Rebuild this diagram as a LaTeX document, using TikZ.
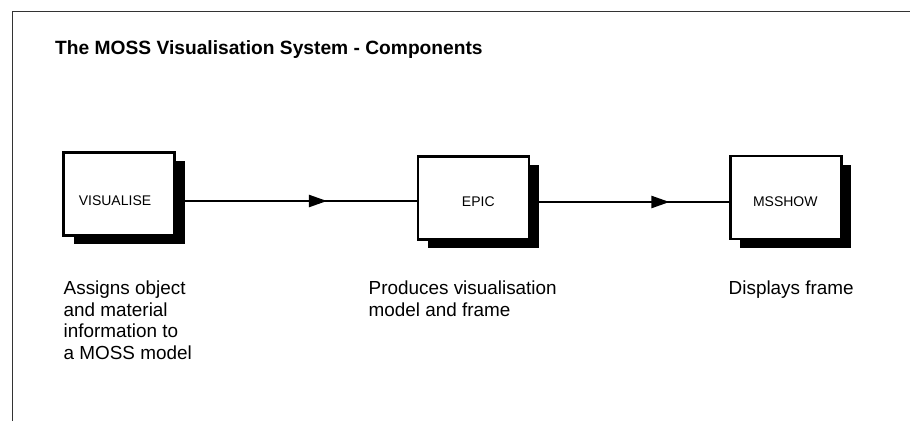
\documentclass[tikz,border=0pt]{standalone}
\usepackage{fontspec}
\setmainfont{Liberation Sans}
\usetikzlibrary{arrows.meta, shadows, decorations.markings}

\begin{document}
\begin{tikzpicture}[x=1pt, y=-1pt,
        comp/.style={rectangle, draw, line width=2.5pt, fill=white, minimum width=111pt, minimum height=83pt, inner sep=0pt,
            drop shadow={shadow xshift=10pt, shadow yshift=-8.5pt, opacity=1, fill=black}},
        comptext/.style={font=\fontsize{14}{16}\selectfont, inner sep=0pt},
        desc/.style={anchor=north west, align=left, inner sep=0pt, font=\fontsize{18.9}{21.7}\selectfont},
        flow/.style={line width=2.2pt},
        tipat/.style={postaction={decorate}, decoration={markings, mark=at position #1 with {\arrow{Triangle[length=18pt, width=12pt]}}}}]
        \useasboundingbox (0, 0) rectangle (910, 421);
        \draw[line width=1pt, black!80] (12, 421) -- (12, 11) -- (910, 11);
        \node[anchor=base west, inner sep=0pt, font=\bfseries\fontsize{19.2}{22}\selectfont] (title) at (55, 54) {The MOSS Visualisation System - Components};
        \node[comp] (vis) at (119, 194.2) {};
        \node[comp] (epic) at (473.7, 197.8) {};
        \node[comp] (msshow) at (785.8, 197.5) {};
        \node[comptext] (vistext) at (115, 201) {VISUALISE};
        \node[comptext] (epictext) at (478.3, 202) {EPIC};
        \node[comptext] (msshowtext) at (785.3, 202) {MSSHOW};
        \draw[flow, tipat=0.627] (vistext -| vis.east) -- (vistext -| epic.west);
        \draw[flow, tipat=0.70] (epictext -| epic.east) -- (epictext -| msshow.west);
        \node[desc] (visdesc) at (63.5, 280.5) {Assigns object\\and material\\information to\\a MOSS model};
        \node[desc] (epicdesc) at (368.5, 280.5) {Produces visualisation\\model and frame};
        \node[desc] (msshowdesc) at (728.5, 280.5) {Displays frame};
    \end{tikzpicture}
\end{document}
